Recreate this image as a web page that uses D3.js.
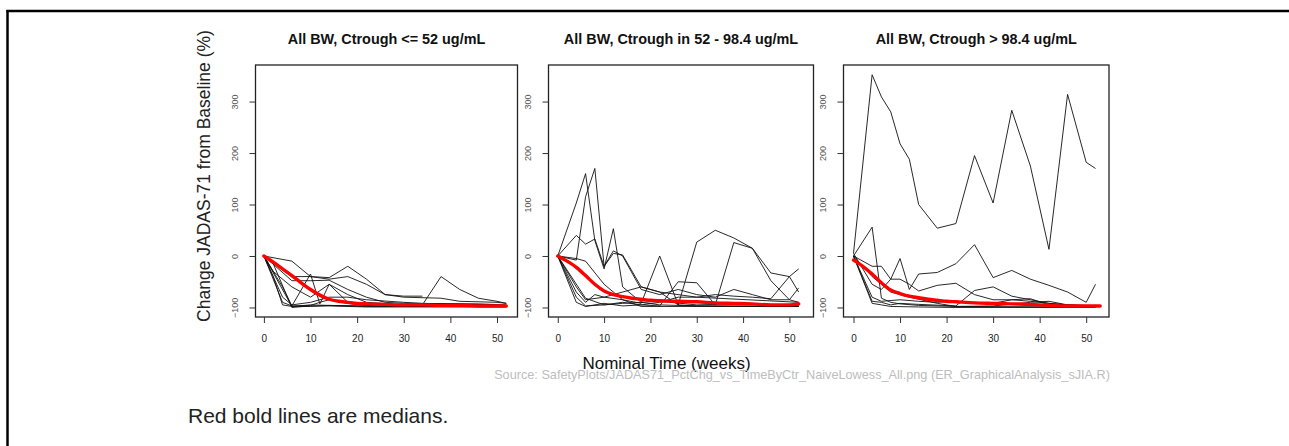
<!DOCTYPE html>
<html>
<head>
<meta charset="utf-8">
<script src="https://cdn.jsdelivr.net/npm/d3@7"></script>
<style>
  html, body { margin: 0; padding: 0; background: #fff; }
  svg { display: block; font-family: "Liberation Sans", Arial, Helvetica, sans-serif; }
</style>
</head>
<body>
<svg id="chart" width="1289" height="446"></svg>
<script>
// Nominal visit weeks shared by the individual profiles
const weeks = [0, 2, 4, 6, 8, 10, 12, 14, 18, 22, 26, 30, 34, 38, 42, 46, 50, 52];

// Individual % change from baseline, Ctrough <= 52 ug/mL (null = no visit)
const lowSubjects = [
  [0, null, null, -10, null, -40, null, -42, -20, -45, -75, -78, -78, null, null, null, null, null],
  [0, null, null, -98, null, -95, null, -96, null, -97, null, -95, -95, -40, -65, -82, -88, -92],
  [0, null, -60, -97, null, -35, -93, -55, -90, null, -95, null, null, -95, null, null, null, -96],
  [0, -40, -95, -98, null, -98, null, -96, null, -98, null, -98, null, null, null, null, null, -98],
  [0, null, null, -40, null, -40, null, -45, -40, -55, -75, -80, null, -82, -88, null, -90, -92],
  [0, null, -80, -95, null, -90, null, -80, -80, -85, null, -90, -92, null, null, null, -95, null],
  [0, null, -90, -97, null, -96, -90, -85, -92, -96, -97, null, null, null, null, null, null, -97],
  [0, -30, null, -60, null, -80, null, -55, -75, -90, null, -95, null, null, null, null, -95, null],
  [0, null, null, -48, null, -48, null, -47, -65, -80, -90, -92, null, null, null, -93, null, -95],
  [0, -15, null, -100, null, -97, null, -97, -98, -99, null, -99, null, -99, null, null, -99, -99]
];

// Individual % change from baseline, Ctrough 52 - 98.4 ug/mL
const midSubjects = [
  [0, null, 103, 160, 30, -25, 53, -60, -90, -95, null, -97, null, null, null, null, null, -98],
  [0, null, -8, 115, 170, -20, 5, 2, -60, -70, null, -80, null, null, null, null, null, -90],
  [0, null, 40, 23, 33, -20, 10, 0, -65, -75, -65, -75, -80, -65, -75, -85, -85, -90],
  [0, null, -5, -10, null, -55, null, -85, -92, 0, -95, -97, null, null, null, null, null, -98],
  [0, null, -60, -85, null, -80, null, -70, -60, -70, -95, 27, 50, 35, 15, -48, -85, -62],
  [0, null, -80, -97, null, -95, null, -90, -95, -97, -50, -52, -95, 26, 15, -33, -40, -70],
  [0, null, -90, -98, null, -92, null, -97, -95, -90, -80, -80, -75, -78, -80, -83, -40, -25],
  [0, null, -70, -90, -75, -80, null, -85, -98, null, null, -98, null, null, null, null, null, -98],
  [0, null, null, -82, null, -95, null, -92, null, -88, null, -95, null, -93, null, null, null, -96]
];

// Individual % change from baseline, Ctrough > 98.4 ug/mL
const highSubjects = [
  [5, null, 352, 309, 280, 218, 188, 100, 54, 63, 195, 103, 283, 175, 13, 314, 182, 170],
  [0, null, 56, -82, -90, -93, null, -96, null, -98, null, null, null, null, null, null, null, -99],
  [0, null, -20, -20, -45, -5, -65, -35, -32, -15, 22, -42, -28, -45, -57, -70, -90, -55],
  [5, null, -55, -65, -45, -45, -55, -68, -57, -53, -75, -85, -85, -88, -92, -95, null, -97],
  [0, null, -88, -90, -95, -92, null, -94, null, -97, -67, -60, -78, -85, -92, -95, null, -98],
  [0, null, -92, -95, -98, null, null, -99, null, -100, null, null, null, null, null, null, null, -100],
  [0, null, -40, null, -70, null, -80, null, -92, -98, null, -97, null, -90, -88, -95, -96, -97],
  [0, null, -80, -88, null, -85, null, -88, -90, -88, null, -92, -85, -83, -95, null, null, -98]
];

// Median (lowess) profiles
const medianWeeks = [0, 2, 4, 6, 8, 10, 12, 14, 16, 18, 20, 22, 26, 30, 34, 38, 42, 46, 50, 52];
const medianWeeksHigh = [0, 2, 4, 6, 8, 10, 12, 14, 16, 18, 20, 22, 26, 30, 34, 38, 42, 46, 50, 53];
const lowMedian  = [0, -12, -25, -38, -52, -65, -76, -84, -88, -90, -92, -93, -94, -95, -95, -96, -96, -97, -97, -97];
const midMedian  = [0, -10, -22, -38, -55, -68, -75, -79, -82, -84, -86, -87, -88, -89, -91, -92, -93, -95, -95, -93];
const highMedian = [-8, -20, -35, -52, -66, -73, -78, -81, -84, -86, -88, -89, -91, -92, -93, -94, -96, -97, -97, -97];

// Panel titles and axis settings
const panelTitles = [
  "All BW, Ctrough <= 52 ug/mL",
  "All BW, Ctrough in 52 - 98.4 ug/mL",
  "All BW, Ctrough > 98.4 ug/mL"
];
const xTicks = [0, 10, 20, 30, 40, 50];
const yTicks = [-100, 0, 100, 200, 300];
const xLimits = [[-1.8, 54.4], [-2.0, 55.2], [-2.15, 54.9]];
const yLimits = [-118.5, 371];

const yTitle = "Change JADAS-71 from Baseline (%)";
const xTitle = "Nominal Time (weeks)";
const sourceNote = "Source: SafetyPlots/JADAS71_PctChg_vs_TimeByCtr_NaiveLowess_All.png (ER_GraphicalAnalysis_sJIA.R)";
const footNote = "Red bold lines are medians.";

const svg = d3.select("#chart");

// Slide frame: top rule and left rule
svg.append("line").attr("x1", 6.5).attr("x2", 1289).attr("y1", 11).attr("y2", 11)
  .attr("stroke", "#000").attr("stroke-width", 2.5);
svg.append("line").attr("x1", 7.5).attr("x2", 7.5).attr("y1", 10).attr("y2", 446)
  .attr("stroke", "#000").attr("stroke-width", 2.5);

const plotTop = 65, plotBottom = 317;
const panelBoxes = [
  { left: 255.5, width: 262 },
  { left: 548.5, width: 265 },
  { left: 843.5, width: 265.5 }
];

const panels = [
  { subjects: lowSubjects, median: lowMedian, mWeeks: medianWeeks },
  { subjects: midSubjects, median: midMedian, mWeeks: medianWeeks },
  { subjects: highSubjects, median: highMedian, mWeeks: medianWeeksHigh }
];

const y = d3.scaleLinear().domain(yLimits).range([plotBottom, plotTop]);

panels.forEach((p, i) => {
  const box = panelBoxes[i];
  const x = d3.scaleLinear().domain(xLimits[i]).range([box.left, box.left + box.width]);
  const g = svg.append("g");

  const line = d3.line().x(d => x(d[0])).y(d => y(d[1]));

  // individual profiles, joined across missed visits
  p.subjects.forEach(vals => {
    const pts = weeks.map((w, k) => [w, vals[k]]).filter(d => d[1] !== null);
    g.append("path").attr("d", line(pts))
      .attr("fill", "none").attr("stroke", "#111").attr("stroke-width", 0.9)
      .attr("stroke-linejoin", "round");
  });

  // median profile
  const mPts = p.mWeeks.map((w, k) => [w, p.median[k]]);
  g.append("path").attr("d", line.curve(d3.curveMonotoneX)(mPts))
    .attr("fill", "none").attr("stroke", "#ff0000").attr("stroke-width", 3.4)
    .attr("stroke-linecap", "round");

  // plot box
  g.append("rect").attr("x", box.left).attr("y", plotTop)
    .attr("width", box.width).attr("height", plotBottom - plotTop)
    .attr("fill", "none").attr("stroke", "#222").attr("stroke-width", 1.3);

  // y axis with rotated labels
  const ya = g.append("g").attr("transform", `translate(${box.left},0)`)
    .call(d3.axisLeft(y).tickValues(yTicks).tickSize(6).tickFormat(d3.format("d")));
  ya.select(".domain").remove();
  ya.selectAll(".tick line").attr("stroke", "#333");
  ya.selectAll(".tick text")
    .attr("transform", "rotate(-90)")
    .attr("x", 0).attr("y", -18).attr("dy", 0)
    .attr("text-anchor", "middle")
    .attr("fill", "#555").style("font-size", "9px")
    .style("font-family", "'Liberation Sans', Arial, sans-serif");

  // x axis
  const xa = g.append("g").attr("transform", `translate(0,${plotBottom})`)
    .call(d3.axisBottom(x).tickValues(xTicks).tickSize(6));
  xa.select(".domain").remove();
  xa.selectAll(".tick line").attr("stroke", "#333");
  xa.selectAll(".tick text")
    .attr("y", 25).attr("dy", 0)
    .attr("fill", "#222").style("font-size", "10px")
    .style("font-family", "'Liberation Sans', Arial, sans-serif");

  // panel title
  g.append("text").attr("x", box.left + box.width / 2).attr("y", 43.5)
    .attr("text-anchor", "middle").attr("font-weight", "bold")
    .attr("font-size", 14.4).attr("fill", "#111").text(panelTitles[i]);
});

// axis titles
svg.append("text").attr("transform", "translate(209.5,176) rotate(-90)")
  .attr("text-anchor", "middle").attr("font-size", 17.5).attr("fill", "#222").text(yTitle);
svg.append("text").attr("x", 666.5).attr("y", 368.5)
  .attr("text-anchor", "middle").attr("font-size", 17).attr("fill", "#111").text(xTitle);

// source and footnote
svg.append("text").attr("x", 1110).attr("y", 379)
  .attr("text-anchor", "end").attr("font-size", 12.7).attr("fill", "#bdbdbd").text(sourceNote);
svg.append("text").attr("x", 188).attr("y", 422.5)
  .attr("font-size", 21).attr("fill", "#222").text(footNote);
</script>
</body>
</html>
